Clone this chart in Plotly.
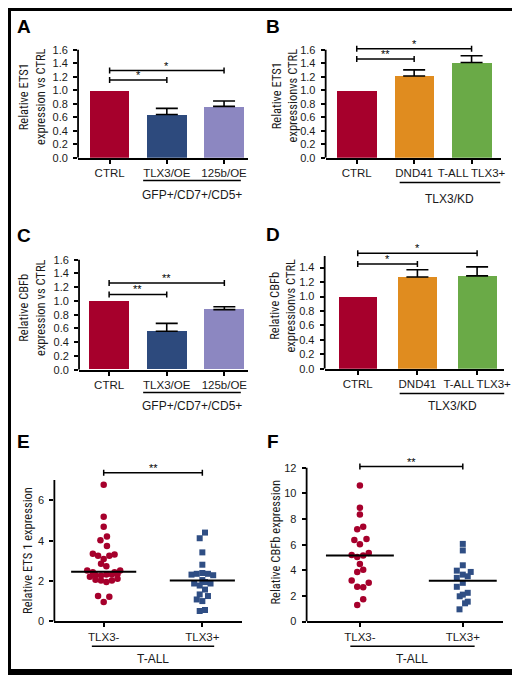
import plotly.graph_objects as go

W, H = 520, 675

# ---------------- data ----------------
oe_groups = ["CTRL", "TLX3/OE", "125b/OE"]
kd_groups = ["CTRL", "DND41", "T-ALL TLX3+"]
oe_colors = ["#a6002c", "#2d4a7d", "#8c87c1"]
kd_colors = ["#a6002c", "#e08c1f", "#6aaa47"]

ets1_oe = [1.0, 0.64, 0.76]
ets1_oe_err = [None, 0.09, 0.08]
ets1_kd = [1.0, 1.21, 1.41]
ets1_kd_err = [None, 0.09, 0.10]
cbfb_oe = [1.0, 0.56, 0.875]
cbfb_oe_err = [None, 0.115, 0.04]
cbfb_kd = [1.0, 1.27, 1.285]
cbfb_kd_err = [None, 0.10, 0.125]

bar_ticks = [0.0, 0.2, 0.4, 0.6, 0.8, 1.0, 1.2, 1.4, 1.6]
bar_ticks_d = [0.0, 0.2, 0.4, 0.6, 0.8, 1.0, 1.2, 1.4]
e_ticks = [0, 2, 4, 6]
f_ticks = [0, 2, 4, 6, 8, 10, 12]

# significance brackets: (from group, to group, level, label)
sig_a = [(0, 1, 1.15, "*"), (0, 2, 1.29, "*")]
sig_b = [(0, 1, 1.46, "**"), (0, 2, 1.615, "*")]
sig_c = [(0, 1, 1.095, "**"), (0, 2, 1.26, "**")]
sig_d = [(0, 1, 1.45, "*"), (0, 2, 1.60, "*")]
sig_e = [(0, 1, 7.36, "**")]
sig_f = [(0, 1, 12.1, "**")]

tall_groups = ["TLX3-", "TLX3+"]

# E: ETS1 in T-ALL (value, horizontal jitter in group units)
e_neg = [6.77, 5.18, 4.69, 4.20, 4.02, 3.74, 3.35, 3.25, 3.25, 3.32, 3.09, 2.86, 2.73,
         2.52, 2.44, 2.44, 2.52, 2.22, 2.30, 2.27, 2.32, 2.32, 2.35,
         2.06, 2.03, 1.95, 2.03, 2.12, 1.26, 1.23, 0.97]
e_neg_off = [0, 0, 0, 0.033, -0.033, 0.033, -0.11, -0.057, 0.057, 0.11, 0, -0.027, 0.027,
             -0.167, -0.11, 0.11, 0.167, -0.14, -0.083, -0.027, 0.027, 0.083, 0.14,
             -0.083, -0.027, 0.027, 0.083, 0.14, -0.057, 0.057, 0]
e_pos = [4.40, 4.12, 3.42, 2.81, 2.32, 2.36, 2.40, 2.36, 2.29, 2.05,
         1.88, 1.78, 1.95, 1.88, 1.58, 1.34, 1.26, 1.09, 1.01, 0.52, 0.57]
e_pos_off = [0.027, -0.027, 0, 0, -0.11, -0.057, 0, 0.057, 0.11, 0,
             -0.083, -0.027, 0.027, 0.083, 0.027, -0.027, 0.057, -0.057, 0, -0.027, 0.027]
e_medians = [2.46, 2.03]

# F: CBFb in T-ALL
f_neg = [10.63, 8.88, 8.36, 7.40, 7.20, 6.37, 6.45, 6.04, 5.20, 5.03, 5.16, 5.34,
         4.49, 4.05, 3.87, 3.20, 3.02, 2.71, 2.68, 1.73, 1.29]
f_neg_off = [0, 0, 0, 0.032, -0.026, -0.054, 0.064, 0, -0.08, -0.026, 0.032, 0.086,
             0, 0.032, -0.026, -0.08, 0.086, -0.026, 0.032, 0.032, -0.026]
f_pos = [6.06, 5.55, 4.39, 3.97, 3.87, 3.66, 3.53, 3.41, 3.02, 2.71, 2.24, 2.10,
         1.97, 1.55, 1.42, 0.95]
f_pos_off = [0, 0, 0, -0.058, 0.077, 0, 0.048, -0.058, 0, -0.058, 0.048, 0,
             -0.03, 0.048, 0.022, -0.032]
f_medians = [5.16, 3.18]

# ---------------- geometry (pixels) ----------------
# xl/xr: plot edges, c0: first group centre, dc: px per group,
# yz: px of zero, ys: px per unit, ymax: range top, top: end of drawn y axis line
geo = {
    1: dict(xl=71, xr=243, c0=103, dc=58, yz=151, ys=68.1, ymax=1.75, top=1.6),
    2: dict(xl=322, xr=500, c0=353.5, dc=58.2, yz=151, ys=68.1, ymax=1.75, top=1.6),
    3: dict(xl=72, xr=243, c0=102.5, dc=58.4, yz=365, ys=69.4, ymax=1.75, top=1.6),
    4: dict(xl=321, xr=503, c0=354.5, dc=60.5, yz=364, ys=72.9, ymax=1.7, top=1.56),
    5: dict(xl=47, xr=237, c0=97, dc=100, yz=619, ys=20.39, ymax=7.8, top=7.0),
    6: dict(xl=302.7, xr=502, c0=356.7, dc=104.3, yz=619, ys=12.92, ymax=12.8, top=12.0),
}

FONT = "Liberation Sans, Arial, Helvetica, sans-serif"
NARROW = "Liberation Sans Narrow, Arial Narrow, Roboto Condensed, Liberation Sans, sans-serif"
LW = 1.8

fig = go.Figure()
shapes = []
annotations = []


def ids(n):
    s = "" if n == 1 else str(n)
    return "x" + s, "y" + s, "xaxis" + s, "yaxis" + s


def setup(n, groups, yticks, yfmt):
    g = geo[n]
    xr, yr, xk, yk = ids(n)
    xrange = [(g["xl"] - g["c0"]) / g["dc"], (g["xr"] - g["c0"]) / g["dc"]]
    ytop_px = g["yz"] - g["ymax"] * g["ys"]
    fig.layout[xk] = dict(
        domain=[g["xl"] / W, g["xr"] / W], range=xrange, anchor=yr,
        showline=True, linewidth=LW, linecolor="black", showgrid=False, zeroline=False,
        ticks="outside", ticklen=4, tickwidth=1.5, tickcolor="black",
        tickvals=list(range(len(groups))), ticktext=groups,
        tickfont=dict(family=FONT, size=11.5, color="#1a1a1a"))
    fig.layout[yk] = dict(
        domain=[1 - g["yz"] / H, 1 - ytop_px / H], range=[0, g["ymax"]], anchor=xr,
        showline=False, showgrid=False, zeroline=False,
        ticks="outside", ticklen=4, tickwidth=1.5, tickcolor="black",
        tickvals=yticks, tickformat=yfmt, ticklabelstandoff=3,
        tickfont=dict(family=FONT, size=11, color="#1a1a1a"))
    shapes.append(dict(type="line", xref=xr + " domain", yref=yr, x0=0, x1=0,
                       y0=0, y1=g["top"], line=dict(color="black", width=LW)))


def brackets(n, sigs):
    xr, yr, _, _ = ids(n)
    for a, b, lev, lab in sigs:
        shapes.append(dict(type="line", xref=xr, yref=yr, x0=a, x1=b, y0=lev, y1=lev,
                           line=dict(color="black", width=1.5)))
        for xe in (a, b):
            shapes.append(dict(type="line", xref=xr, yref=yr, ysizemode="pixel", yanchor=lev,
                               x0=xe, x1=xe, y0=-3, y1=3, line=dict(color="black", width=1.5)))
        annotations.append(dict(xref=xr, yref=yr, x=(a + b) / 2, y=lev, text=lab,
                                showarrow=False, yanchor="bottom", yshift=-3,
                                font=dict(family=FONT, size=11, color="black")))


def group_label(n, x0px, x1px, ypx, text, typx):
    g = geo[n]
    xr, _, _, _ = ids(n)
    shapes.append(dict(type="line", xref=xr, yref="paper",
                       x0=(x0px - g["c0"]) / g["dc"], x1=(x1px - g["c0"]) / g["dc"],
                       y0=1 - ypx / H, y1=1 - ypx / H, line=dict(color="black", width=1.5)))
    annotations.append(dict(xref="paper", yref="paper", x=(x0px + x1px) / 2 / W, y=1 - typx / H,
                            text=text, showarrow=False, xanchor="center", yanchor="middle",
                            font=dict(family=FONT, size=12, color="#1a1a1a")))


def ytitle(xpx, ypx, text):
    annotations.append(dict(xref="paper", yref="paper", x=xpx / W, y=1 - ypx / H, text=text,
                            textangle=-90, showarrow=False, xanchor="center", yanchor="middle",
                            font=dict(family=NARROW, size=12.5, color="#1a1a1a")))


def letter(xpx, ypx, text):
    annotations.append(dict(xref="paper", yref="paper", x=xpx / W, y=1 - ypx / H, text="<b>%s</b>" % text,
                            showarrow=False, xanchor="center", yanchor="middle",
                            font=dict(family=FONT, size=19, color="black")))


def bars(n, vals, errs, colors, width):
    xr, yr, _, _ = ids(n)
    idx = list(range(len(vals)))
    fig.add_trace(go.Bar(
        x=idx, y=vals, width=width, xaxis=xr, yaxis=yr,
        marker=dict(color=colors, line=dict(width=0)),
        showlegend=False, hoverinfo="skip"))
    # upward-only error bars, only for the groups that have one
    keep = [i for i in idx if errs[i] is not None]
    fig.add_trace(go.Scatter(
        x=keep, y=[vals[i] for i in keep], mode="markers", xaxis=xr, yaxis=yr,
        marker=dict(size=1, color="rgba(0,0,0,0)"),
        error_y=dict(type="data", array=[errs[i] for i in keep], arrayminus=[0] * len(keep),
                     symmetric=False, color="black", thickness=1.6, width=11),
        showlegend=False, hoverinfo="skip"))


def dots(n, vals_neg, off_neg, vals_pos, off_pos, medians):
    xr, yr, _, _ = ids(n)
    fig.add_trace(go.Scatter(
        x=[0 + o for o in off_neg], y=vals_neg, mode="markers", xaxis=xr, yaxis=yr,
        marker=dict(symbol="circle", size=6.5, color="#a6002c"), showlegend=False, cliponaxis=False))
    fig.add_trace(go.Scatter(
        x=[1 + o for o in off_pos], y=vals_pos, mode="markers", xaxis=xr, yaxis=yr,
        marker=dict(symbol="square", size=6, color="#2f4e84"), showlegend=False, cliponaxis=False))
    for i, m in enumerate(medians):
        fig.add_trace(go.Scatter(
            x=[i - 0.33, i + 0.33], y=[m, m], mode="lines", xaxis=xr, yaxis=yr,
            line=dict(color="black", width=2), showlegend=False))


# A
setup(1, oe_groups, bar_ticks, ".1f")
bars(1, ets1_oe, ets1_oe_err, oe_colors, 0.69)
brackets(1, sig_a)
group_label(1, 137, 236, 174, "GFP+/CD7+/CD5+", 189)
ytitle(24, 90, "Relative ETS1<br>expression vs CTRL")
letter(16, 19, "A")

# B
setup(2, kd_groups, bar_ticks, ".1f")
bars(2, ets1_kd, ets1_kd_err, kd_colors, 0.69)
brackets(2, sig_b)
group_label(2, 397, 499, 176, "TLX3/KD", 193)
ytitle(280, 88, "Relative ETS1<br>expressionvs CTRL")
letter(269, 19, "B")

# C
setup(3, oe_groups, bar_ticks, ".1f")
bars(3, cbfb_oe, cbfb_oe_err, oe_colors, 0.69)
brackets(3, sig_c)
group_label(3, 137, 236, 388, "GFP+/CD7+/CD5+", 402)
ytitle(24, 303, "Relative CBFb<br>expression vs CTRL")
letter(16, 230, "C")

# D
setup(4, kd_groups, bar_ticks_d, ".1f")
bars(4, cbfb_kd, cbfb_kd_err, kd_colors, 0.645)
brackets(4, sig_d)
group_label(4, 397, 505, 389, "TLX3/KD", 402)
ytitle(278, 300, "Relative CBFb<br>expressionvs CTRL")
letter(269, 229, "D")

# E
setup(5, tall_groups, e_ticks, "d")
dots(5, e_neg, e_neg_off, e_pos, e_pos_off, e_medians)
brackets(5, sig_e)
group_label(5, 85, 209, 644, "T-ALL", 657)
ytitle(19, 547, "Relative ETS 1 expression")
letter(16, 437, "E")

# F
setup(6, tall_groups, f_ticks, "d")
dots(6, f_neg, f_neg_off, f_pos, f_pos_off, f_medians)
brackets(6, sig_f)
group_label(6, 347, 473, 644, "T-ALL", 657)
ytitle(271, 539, "Relative CBFb expression")
letter(269, 437, "F")

# outer frame
shapes.append(dict(type="rect", xref="paper", yref="paper", x0=0, x1=1, y0=0, y1=1,
                   line=dict(color="black", width=6), layer="above"))
shapes.append(dict(type="rect", xref="paper", yref="paper", x0=0, x1=1, y0=0, y1=8 / H,
                   line=dict(width=0), fillcolor="black", layer="above"))

fig.update_layout(
    width=W, height=H, margin=dict(l=0, r=0, t=0, b=0),
    paper_bgcolor="white", plot_bgcolor="white",
    shapes=shapes, annotations=annotations, bargap=0, barmode="overlay",
    font=dict(family=FONT, color="black"),
)

fig.write_html("out.html")
